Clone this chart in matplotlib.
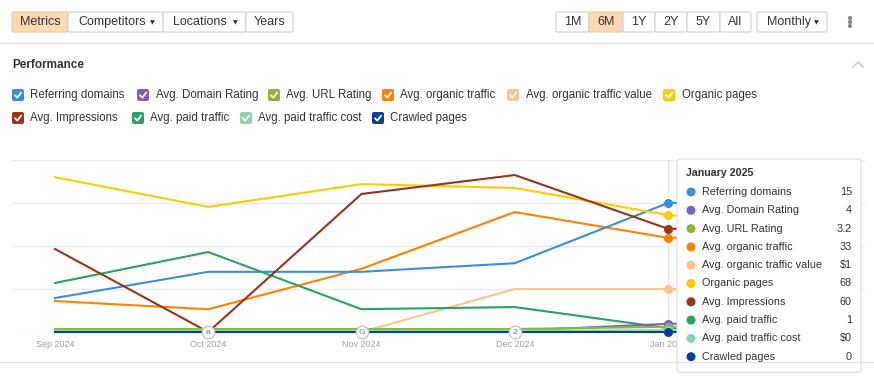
import numpy as np
import matplotlib.pyplot as plt
from matplotlib.patches import FancyBboxPatch, Circle

plt.rcParams['font.family'] = ['Liberation Sans', 'DejaVu Sans']

# ---------------------------------> Data <---------------------------------
months = ['Sep 2024', 'Oct 2024', 'Nov 2024', 'Dec 2024', 'Jan 2025', 'Feb 2025']

series_names = ['Referring domains', 'Avg. Domain Rating', 'Avg. URL Rating',
                'Avg. organic traffic', 'Avg. organic traffic value', 'Organic pages',
                'Avg. Impressions', 'Avg. paid traffic', 'Avg. paid traffic cost',
                'Crawled pages']
colors = ['#3a8ee0', '#7b5fc6', '#8cb83a', '#ff8200', '#ffc38c', '#ffcc00',
          '#9b3416', '#27a463', '#8fd4ad', '#0a3f99']

# each metric is drawn on its own scale -> values in chart grid units (0..4)
referring_domains = [0.79, 1.40, 1.40, 1.60, 3.00, 3.05]
domain_rating = [0.02, 0.02, 0.02, 0.03, 0.19, 0.22]
url_rating = [0.07, 0.07, 0.07, 0.07, 0.12, 0.13]
organic_traffic = [0.72, 0.53, 1.47, 2.79, 2.19, 2.30]
organic_traffic_value = [0.0, 0.0, 0.0, 1.00, 1.00, 0.95]
organic_pages = [3.60, 2.91, 3.44, 3.35, 2.72, 2.50]
impressions = [1.93, 0.0, 3.21, 3.65, 2.40, 2.40]
paid_traffic = [1.14, 1.86, 0.53, 0.58, 0.09, 0.10]
paid_traffic_cost = [0.03, 0.03, 0.03, 0.03, 0.04, 0.04]
crawled_pages = [0.0, 0.0, 0.0, 0.0, 0.0, 0.0]

all_series = [referring_domains, domain_rating, url_rating, organic_traffic,
              organic_traffic_value, organic_pages, impressions, paid_traffic,
              paid_traffic_cost, crawled_pages]

tooltip_title = 'January 2025'
tooltip_values = ['15', '4', '3.2', '33', '$1', '68', '60', '1', '$0', '0']
hover_index = 4

events = [(1, 'a'), (2, 'G'), (3, '2')]

W, H = 874, 376
fig = plt.figure(figsize=(W / 100, H / 100), dpi=100)
fig.patch.set_facecolor('white')

# -------------------------------> Chart <---------------------------------
x_left, x_right, y_top, y_base = 12, 865, 160, 332
x0_px, step_px = 55, 153.25
ax = fig.add_axes([x_left / W, 1 - y_base / H, (x_right - x_left) / W, (y_base - y_top) / H])
ax.set_xlim((x_left - x0_px) / step_px, (x_right - x0_px) / step_px)
ax.set_ylim(0, 4)
for s in ax.spines.values():
    s.set_visible(False)
ax.set_yticks([0, 1, 2, 3, 4])
ax.set_yticklabels([])
ax.tick_params(axis='y', length=0)
ax.grid(axis='y', color='#ececec', lw=1)
ax.set_xticks(range(5))
ax.set_xticklabels(months[:5], color='#a0a0a0', fontsize=6.5)
ax.tick_params(axis='x', length=0, pad=6)
ax.set_axisbelow(True)

xs = np.arange(len(months))
ax.axvline(hover_index, color='#e6e6e6', lw=1, zorder=1)

order = [4, 3, 0, 7, 5, 6, 1, 2, 8, 9]
for i in order:
    ax.plot(xs, all_series[i], color=colors[i], lw=1.5, zorder=2 + order.index(i) * 0.1,
            clip_on=False, solid_joinstyle='miter')
for i in order:
    ax.plot(xs[hover_index], all_series[i][hover_index], 'o', color=colors[i],
            ms=5.5, mec=colors[i], zorder=4, clip_on=False)

for idx, lab in events:
    ax.plot(idx, 0, 'o', ms=9, mfc='white', mec='#c8c8c8', mew=1, zorder=5, clip_on=False)
    ax.text(idx, 0, lab, ha='center', va='center', fontsize=6, color='#9a9a9a',
            zorder=6, fontweight='bold')

# -------------------------------> UI overlay <---------------------------------
ui = fig.add_axes([0, 0, 1, 1], zorder=10)
ui.set_xlim(0, W)
ui.set_ylim(H, 0)
ui.axis('off')
ui.patch.set_alpha(0)

txt = '#333333'
peach = '#fdd9b3'
border = '#d2d2d2'


def button(x0, x1, label, highlight=False, dropdown=False, y0=12, y1=32):
    ui.add_patch(FancyBboxPatch((x0, y0), x1 - x0, y1 - y0, boxstyle='round,pad=0,rounding_size=2',
                                fc=peach if highlight else 'white',
                                ec='#f0c89c' if highlight else border, lw=0.8))
    if dropdown:
        ui.text(x0 + 10, (y0 + y1) / 2, label, ha='left', va='center', fontsize=9, color=txt)
        ui.text(x1 - 11, (y0 + y1) / 2 + 0.5, '▼', ha='center', va='center', fontsize=4.5,
                color=txt, family='DejaVu Sans')
    else:
        ui.text((x0 + x1) / 2, (y0 + y1) / 2, label, ha='center', va='center', fontsize=9, color=txt)


button(12, 68, 'Metrics', highlight=True)
button(68, 163, 'Competitors', dropdown=True)
button(163, 246, 'Locations', dropdown=True)
button(246, 293, 'Years')

right_buttons = [('1M', 556, 589), ('6M', 589, 623), ('1Y', 623, 655),
                 ('2Y', 655, 687), ('5Y', 687, 720), ('All', 720, 751)]
for lab, a, b in right_buttons:
    button(a, b, lab, highlight=(lab == '6M'))
button(757, 827, 'Monthly', dropdown=True)

for yy in [18, 22, 26]:
    ui.add_patch(Circle((850, yy), 1.4, color='#888888'))

ui.plot([0, W], [43, 43], color='#e6e6e6', lw=1)
ui.plot([0, W], [362, 362], color='#e6e6e6', lw=1)

ui.text(12, 65, 'Performance', ha='left', va='center', fontsize=8.5, fontweight='bold', color=txt)
ui.plot([853, 858, 863], [67, 62, 67], color='#c4c4c4', lw=1)

# legend with checkboxes
legend_rows = [(95, [(0, 12), (1, 137), (2, 268), (3, 382), (4, 507), (5, 663)]),
               (118, [(6, 12), (7, 132), (8, 240), (9, 372)])]
for yc, items in legend_rows:
    for i, bx in items:
        ui.add_patch(FancyBboxPatch((bx, yc - 6), 12, 12, boxstyle='round,pad=0,rounding_size=2',
                                    fc=colors[i], ec='none'))
        ui.plot([bx + 3, bx + 5.3, bx + 9.2], [yc + 0.3, yc + 2.6, yc - 2.4], color='white',
                lw=1.3, solid_capstyle='round')
        ui.text(bx + 18.5, yc, series_names[i], ha='left', va='center', fontsize=8.3, color=txt)

# tooltip
ui.add_patch(FancyBboxPatch((678, 161), 184, 213, boxstyle='round,pad=0,rounding_size=3',
                            fc='#eeeeee', ec='none', alpha=0.6))
ui.add_patch(FancyBboxPatch((677, 159), 184, 213, boxstyle='round,pad=0,rounding_size=3',
                            fc='white', ec='#dddddd', lw=0.8))
ui.text(686, 173, tooltip_title, ha='left', va='center', fontsize=7.7, fontweight='bold', color=txt)
for k, name in enumerate(series_names):
    yy = 192 + k * 18.3
    ui.add_patch(Circle((691, yy), 3.8, color=colors[k]))
    ui.text(702, yy, name, ha='left', va='center', fontsize=7.8, color=txt)
    ui.text(852, yy, tooltip_values[k], ha='right', va='center', fontsize=7.8, color=txt)

fig.savefig('out.png', dpi=100)
